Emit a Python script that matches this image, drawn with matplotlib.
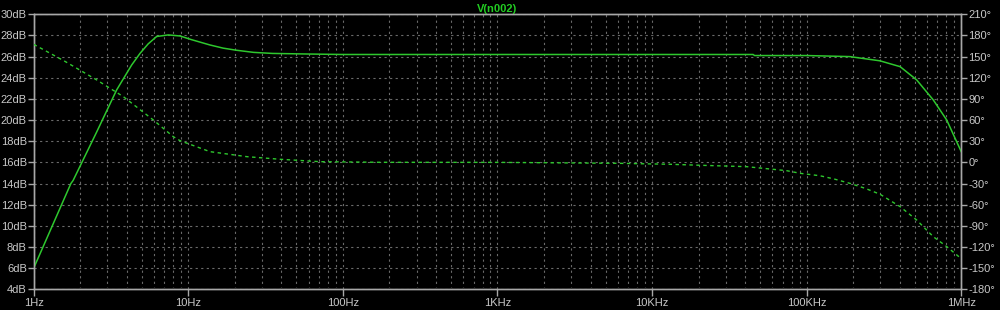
import numpy as np
import matplotlib
matplotlib.use("Agg")
import matplotlib.pyplot as plt
from matplotlib.ticker import FixedLocator, LogLocator, NullFormatter

# ---- data ----
mag_freq = [1, 1.74, 1.8, 2.56, 3.44, 4.3, 4.87, 5.5, 6.24, 7.42, 8.84, 10.5, 13.8,
            16.8, 20.5, 26.4, 35, 55.5, 100, 1000, 10000, 45000, 46000, 100000,
            190000, 298000, 402000, 514000, 659000, 805000, 1000000]
mag_db = [6.0, 14.0, 14.3, 18.9, 22.85, 25.2, 26.3, 27.2, 27.9, 28.05, 27.95, 27.6, 27.1,
          26.8, 26.6, 26.4, 26.3, 26.25, 26.2, 26.2, 26.2, 26.2, 26.1, 26.1,
          26.0, 25.6, 25.05, 23.8, 21.9, 20.0, 17.0]

ph_freq = [1, 1.6, 2.56, 3.8, 5.94, 8.0, 8.84, 13.8, 23.9, 39.2, 71, 174, 1000,
           5900, 13100, 20400, 40900, 74300, 90600, 122000, 150000, 190000, 240000, 298000,
           402000, 514000, 659000, 805000, 1000000]
ph_deg = [167.4, 143.0, 116.8, 93.2, 60.1, 36.4, 30.8, 15.2, 8.1, 4.4, 1.0, 0.1, 0.0,
          -1.3, -2.7, -4.1, -6.1, -11.8, -15.5, -19.0, -23.5, -29.7, -37.0, -45.2,
          -62.8, -81.7, -105.4, -119.5, -136.6]

db_ticks = list(range(4, 31, 2))
deg_ticks = list(range(-180, 211, 30))
freq_ticks = [1, 10, 100, 1e3, 1e4, 1e5, 1e6]
freq_labels = ["1Hz", "10Hz", "100Hz", "1KHz", "10KHz", "100KHz", "1MHz"]
title = "V(n002)"

# ---- style ----
BG = "#000000"
FG = "#c8c8c8"
SPINE = "#a8a8a8"
GRID = "#6a6a6a"
TRACE = "#2ec82e"
FONT = ["Liberation Sans", "DejaVu Sans"]
plt.rcParams["font.family"] = FONT

fig = plt.figure(figsize=(10, 3.1), dpi=100, facecolor=BG)
ax = fig.add_axes([0.0337, 0.0668, 0.9276, 0.8871], facecolor=BG)
ax2 = ax.twinx()

ax.set_xscale("log")
ax.set_xlim(1, 1e6)
ax.set_ylim(4, 30)
ax2.set_ylim(-180, 210)

ax.plot(mag_freq, mag_db, color=TRACE, lw=1.1, zorder=5)
ax2.plot(ph_freq, ph_deg, color=TRACE, lw=1.0, linestyle=(0, (2.5, 2.5)), zorder=5)

ax.xaxis.set_major_locator(FixedLocator(freq_ticks))
ax.set_xticklabels(freq_labels)
ax.xaxis.set_minor_locator(LogLocator(base=10, subs=np.arange(2, 10), numticks=100))
ax.xaxis.set_minor_formatter(NullFormatter())
ax.set_yticks(db_ticks)
ax.set_yticklabels([f"{v}dB" for v in db_ticks])
ax2.set_yticks(deg_ticks)
ax2.set_yticklabels([f"{v}\u00b0" for v in deg_ticks])

ax.grid(True, which="both", axis="x", color=GRID, lw=0.8, linestyle=(0, (2, 3)))
ax.grid(True, which="major", axis="y", color=GRID, lw=0.8, linestyle=(0, (2, 3)))
ax.set_axisbelow(True)

for a in (ax, ax2):
    for s in a.spines.values():
        s.set_color(SPINE)
        s.set_linewidth(1.0)
    a.tick_params(colors=SPINE, labelcolor=FG, labelsize=8)

ax.tick_params(axis="y", which="major", length=4, width=1, pad=1)
ax2.tick_params(axis="y", which="major", length=4, width=1, pad=1)
ax.tick_params(axis="x", which="major", length=5, width=1, pad=1.5)
ax.tick_params(axis="x", which="minor", length=2.5, width=1, direction="inout")

ax.set_title(title, color="#22cc22", fontsize=8, fontweight="bold", pad=2)

fig.savefig("out.png", dpi=100, facecolor=BG)
